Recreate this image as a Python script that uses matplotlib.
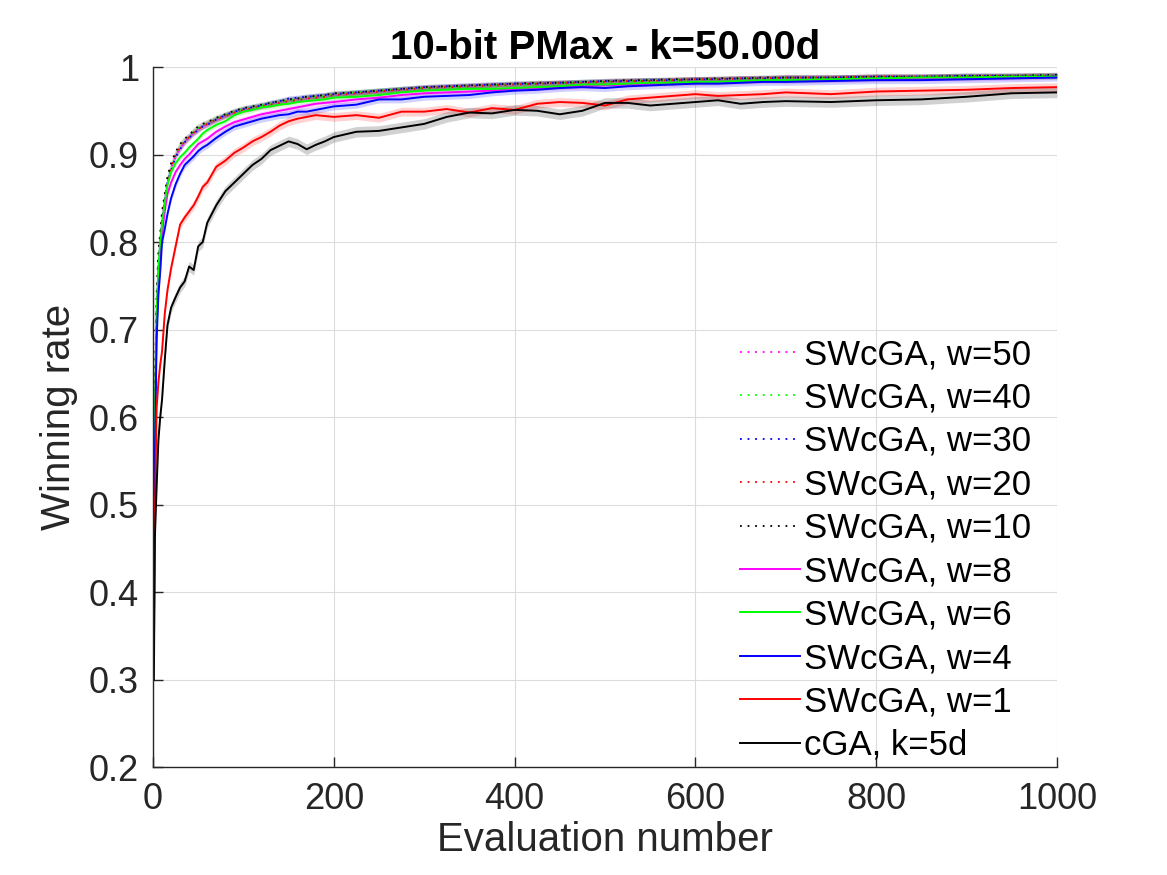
import numpy as np
import matplotlib
matplotlib.use("Agg")
import matplotlib.pyplot as plt

plt.rcParams['font.family'] = ['Liberation Sans', 'DejaVu Sans']

evals = [1, 2, 4, 6, 8, 10, 13, 16, 20, 25, 30, 35, 40, 45, 50, 55, 60, 70, 80, 90,
         100, 110, 120, 130, 140, 150, 160, 170, 180, 190, 200, 225, 250, 275, 300,
         325, 350, 375, 400, 425, 450, 475, 500, 525, 550, 575, 600, 625, 650, 675,
         700, 750, 800, 850, 900, 950, 1000]

cga_k5d = [0.30, 0.46, 0.52, 0.574, 0.60, 0.62, 0.665, 0.705, 0.725, 0.737, 0.748, 0.755,
           0.772, 0.768, 0.795, 0.80, 0.822, 0.842, 0.858, 0.868, 0.878, 0.888, 0.895,
           0.905, 0.91, 0.915, 0.912, 0.906, 0.911, 0.915, 0.920, 0.926, 0.927, 0.931,
           0.935, 0.943, 0.948, 0.947, 0.951, 0.950, 0.946, 0.950, 0.959, 0.959, 0.956,
           0.958, 0.960, 0.962, 0.958, 0.960, 0.961, 0.960, 0.962, 0.963, 0.966, 0.970, 0.971]

sw_w1 = [0.33, 0.48, 0.61, 0.64, 0.66, 0.675, 0.718, 0.745, 0.77, 0.795, 0.82, 0.828,
         0.835, 0.842, 0.852, 0.863, 0.868, 0.886, 0.893, 0.902, 0.908, 0.915, 0.920,
         0.926, 0.933, 0.938, 0.941, 0.943, 0.945, 0.944, 0.943, 0.945, 0.942, 0.949,
         0.949, 0.952, 0.948, 0.953, 0.951, 0.958, 0.960, 0.959, 0.956, 0.963, 0.965,
         0.967, 0.969, 0.967, 0.968, 0.969, 0.971, 0.969, 0.972, 0.973, 0.974, 0.976, 0.977]

sw_w4 = [0.35, 0.55, 0.688, 0.74, 0.766, 0.80, 0.815, 0.832, 0.85, 0.866, 0.878, 0.888,
         0.893, 0.898, 0.904, 0.908, 0.911, 0.919, 0.926, 0.932, 0.935, 0.938, 0.941,
         0.943, 0.945, 0.946, 0.949, 0.949, 0.951, 0.953, 0.955, 0.957, 0.963, 0.963,
         0.966, 0.967, 0.968, 0.971, 0.973, 0.974, 0.976, 0.977, 0.976, 0.978, 0.979,
         0.980, 0.981, 0.981, 0.982, 0.983, 0.983, 0.984, 0.985, 0.985, 0.986, 0.987, 0.988]

sw_w6 = [0.45, 0.60, 0.72, 0.77, 0.80, 0.82, 0.845, 0.865, 0.88, 0.89, 0.897, 0.902,
         0.908, 0.913, 0.918, 0.924, 0.928, 0.934, 0.938, 0.945, 0.949, 0.951, 0.954,
         0.955, 0.957, 0.958, 0.960, 0.961, 0.962, 0.963, 0.965, 0.966, 0.968, 0.971,
         0.973, 0.974, 0.975, 0.975, 0.976, 0.977, 0.978, 0.980, 0.980, 0.981, 0.982,
         0.982, 0.983, 0.983, 0.984, 0.985, 0.985, 0.986, 0.987, 0.988, 0.988, 0.989, 0.989]

sw_w8 = [0.42, 0.58, 0.70, 0.76, 0.79, 0.81, 0.835, 0.855, 0.868, 0.88, 0.888, 0.895,
         0.90, 0.906, 0.912, 0.915, 0.918, 0.926, 0.932, 0.937, 0.940, 0.943, 0.946,
         0.948, 0.95, 0.952, 0.954, 0.956, 0.958, 0.959, 0.960, 0.963, 0.965, 0.968,
         0.970, 0.971, 0.972, 0.973, 0.975, 0.976, 0.977, 0.978, 0.979, 0.980, 0.981,
         0.981, 0.982, 0.982, 0.983, 0.984, 0.984, 0.985, 0.986, 0.987, 0.987, 0.988, 0.989]

sw_w10 = [0.50, 0.62, 0.74, 0.79, 0.81, 0.835, 0.855, 0.875, 0.89, 0.903, 0.912, 0.918,
          0.922, 0.928, 0.932, 0.935, 0.937, 0.942, 0.946, 0.950, 0.953, 0.955, 0.957,
          0.959, 0.961, 0.963, 0.964, 0.966, 0.967, 0.968, 0.970, 0.971, 0.973, 0.975,
          0.977, 0.978, 0.979, 0.980, 0.981, 0.982, 0.982, 0.983, 0.984, 0.985, 0.985,
          0.986, 0.986, 0.987, 0.987, 0.988, 0.988, 0.988, 0.989, 0.989, 0.990, 0.990, 0.991]

sw_w20 = [0.57, 0.63, 0.73, 0.78, 0.805, 0.83, 0.85, 0.87, 0.885, 0.90, 0.908, 0.915,
          0.92, 0.925, 0.929, 0.932, 0.935, 0.940, 0.944, 0.948, 0.951, 0.953, 0.955,
          0.957, 0.959, 0.961, 0.962, 0.964, 0.965, 0.966, 0.968, 0.970, 0.972, 0.974,
          0.976, 0.977, 0.978, 0.979, 0.980, 0.981, 0.982, 0.982, 0.983, 0.984, 0.984,
          0.985, 0.986, 0.986, 0.987, 0.987, 0.988, 0.988, 0.989, 0.989, 0.989, 0.990, 0.990]

sw_w30 = [0.52, 0.61, 0.72, 0.775, 0.80, 0.825, 0.848, 0.868, 0.882, 0.897, 0.906, 0.914,
          0.919, 0.924, 0.928, 0.932, 0.934, 0.940, 0.945, 0.949, 0.952, 0.954, 0.956,
          0.959, 0.961, 0.964, 0.965, 0.966, 0.967, 0.968, 0.969, 0.971, 0.973, 0.975,
          0.977, 0.978, 0.979, 0.980, 0.981, 0.981, 0.982, 0.983, 0.984, 0.984, 0.985,
          0.985, 0.986, 0.986, 0.987, 0.987, 0.988, 0.988, 0.989, 0.989, 0.990, 0.990, 0.990]

sw_w40 = [0.50, 0.62, 0.73, 0.78, 0.805, 0.83, 0.852, 0.872, 0.888, 0.90, 0.91, 0.916,
          0.921, 0.926, 0.930, 0.933, 0.936, 0.941, 0.945, 0.949, 0.952, 0.954, 0.956,
          0.958, 0.960, 0.962, 0.963, 0.965, 0.966, 0.967, 0.969, 0.971, 0.973, 0.975,
          0.976, 0.977, 0.978, 0.979, 0.980, 0.981, 0.982, 0.983, 0.983, 0.984, 0.985,
          0.985, 0.986, 0.986, 0.987, 0.987, 0.988, 0.988, 0.989, 0.989, 0.990, 0.990, 0.991]

sw_w50 = [0.55, 0.62, 0.72, 0.775, 0.80, 0.825, 0.85, 0.868, 0.884, 0.898, 0.907, 0.914,
          0.92, 0.925, 0.929, 0.932, 0.935, 0.940, 0.944, 0.948, 0.951, 0.953, 0.955,
          0.957, 0.959, 0.961, 0.963, 0.964, 0.966, 0.967, 0.968, 0.970, 0.972, 0.974,
          0.976, 0.977, 0.978, 0.979, 0.980, 0.981, 0.982, 0.982, 0.983, 0.984, 0.985,
          0.985, 0.986, 0.986, 0.987, 0.987, 0.988, 0.988, 0.989, 0.989, 0.990, 0.990, 0.991]

labels = ["SWcGA, w=50", "SWcGA, w=40", "SWcGA, w=30", "SWcGA, w=20", "SWcGA, w=10",
          "SWcGA, w=8", "SWcGA, w=6", "SWcGA, w=4", "SWcGA, w=1", "cGA, k=5d"]
series = [sw_w50, sw_w40, sw_w30, sw_w20, sw_w10, sw_w8, sw_w6, sw_w4, sw_w1, cga_k5d]
colors = ["#ff00ff", "#00ff00", "#0000ff", "#ff0000", "#000000",
          "#ff00ff", "#00ff00", "#0000ff", "#ff0000", "#000000"]
styles = ["dot", "dot", "dot", "dot", "dot", "solid", "solid", "solid", "solid", "solid"]
band_half = [0.003, 0.003, 0.003, 0.003, 0.003, 0.003, 0.003, 0.004, 0.005, 0.006]

TXT = "#262626"

fig = plt.figure(figsize=(11.67, 8.75), dpi=100)
ax = fig.add_axes([0.1311, 0.1234, 0.7746, 0.8])

x = np.array(evals, dtype=float)
for ys, c, bh in zip(series, colors, band_half):
    y = np.array(ys)
    ax.fill_between(x, y - bh, y + bh, color=c, alpha=0.18, linewidth=0)
for ys, c, st, lab in zip(series, colors, styles, labels):
    y = np.array(ys)
    if st == "dot":
        ax.plot(x, y, color=c, lw=1.3, linestyle=(0, (1, 3.2)), label=lab)
    else:
        ax.plot(x, y, color=c, lw=1.4, linestyle='-', label=lab)

ax.set_xlim(0, 1000)
ax.set_ylim(0.2, 1.0)
ax.set_xticks([0, 200, 400, 600, 800, 1000])
ax.set_yticks([0.2, 0.3, 0.4, 0.5, 0.6, 0.7, 0.8, 0.9, 1.0])
ax.set_yticklabels(["0.2", "0.3", "0.4", "0.5", "0.6", "0.7", "0.8", "0.9", "1"])
ax.grid(True, color="#dcdcdc", linewidth=0.8)
ax.set_axisbelow(True)
for s in ["top", "right"]:
    ax.spines[s].set_visible(False)
for s in ["left", "bottom"]:
    ax.spines[s].set_color(TXT)
    ax.spines[s].set_linewidth(1.0)
ax.tick_params(direction="in", length=7, width=1.0, colors=TXT, labelsize=26)
ax.tick_params(axis="x", pad=11)
ax.tick_params(axis="y", pad=10)

ax.set_xlabel("Evaluation number", fontsize=29, color=TXT, labelpad=3)
ax.set_ylabel("Winning rate", fontsize=29, color=TXT, labelpad=8)
ax.set_title("10-bit PMax - k=50.00d", fontsize=29, fontweight="bold", pad=3)

leg = ax.legend(loc="center left", bbox_to_anchor=(0.649, 0.31), frameon=False,
                fontsize=25, handlelength=1.75, handletextpad=0.1, labelspacing=0.3,
                borderpad=0, borderaxespad=0)

fig.savefig("out.png", dpi=100)
